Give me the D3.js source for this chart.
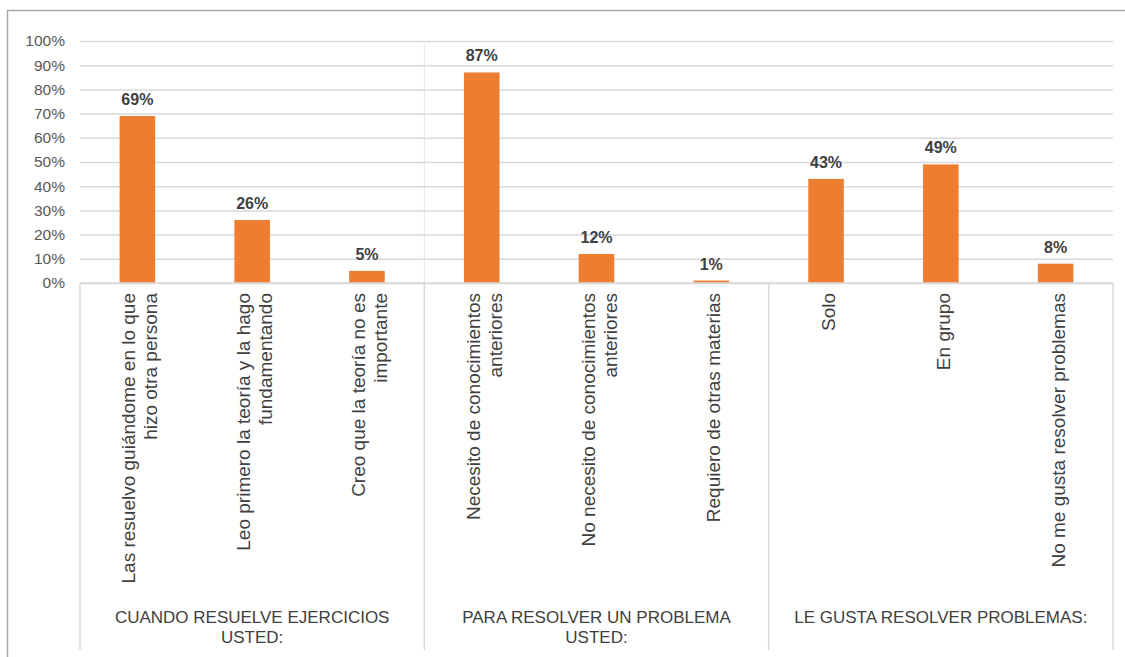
<!DOCTYPE html>
<html>
<head>
<meta charset="utf-8">
<script src="https://cdn.jsdelivr.net/npm/d3@7"></script>
<style>
  html, body { margin: 0; padding: 0; background: #fff; }
  svg { display: block; font-family: "Liberation Sans", Arial, sans-serif; }
</style>
</head>
<body>
<svg id="chart" width="1125" height="657"></svg>
<script>
// ---- data ----
const categoryLabels = [
  ["Las resuelvo guiándome en lo que", "hizo otra persona"],
  ["Leo primero la teoría y la hago", "fundamentando"],
  ["Creo que la teoría no es", "importante"],
  ["Necesito de conocimientos", "anteriores"],
  ["No necesito de conocimientos", "anteriores"],
  ["Requiero de otras materias"],
  ["Solo"],
  ["En grupo"],
  ["No me gusta resolver problemas"]
];
const values = [0.69, 0.26, 0.05, 0.87, 0.12, 0.01, 0.43, 0.49, 0.08];
const groupLabels = [
  ["CUANDO RESUELVE EJERCICIOS", "USTED:"],
  ["PARA RESOLVER UN PROBLEMA", "USTED:"],
  ["LE GUSTA RESOLVER PROBLEMAS:"]
];
const groupSizes = [3, 3, 3];
const yTicks = [0, 0.1, 0.2, 0.3, 0.4, 0.5, 0.6, 0.7, 0.8, 0.9, 1.0];

// ---- layout ----
const svg = d3.select("#chart");
const pL = 80, pR = 1113, pT = 41, pB = 283, catBottom = 650;
const barColor = "#ed7d31";
const gridColor = "#d9d9d9";
const textColor = "#595959";

// outer frame
svg.append("rect").attr("x", 7.5).attr("y", 10.5).attr("width", 1130).attr("height", 700)
  .attr("fill", "none").attr("stroke", "#a6a6a6").attr("stroke-width", 1.5);

const idx = values.map((d, i) => i);
const x = d3.scaleBand().domain(idx).range([pL, pR]).paddingInner(0.69).paddingOuter(0.345);
const xCell = d3.scaleBand().domain(idx).range([pL, pR]).padding(0);
const y = d3.scaleLinear().domain([0, 1]).range([pB, pT]);

// gridlines + y axis
const yAxis = d3.axisLeft(y).tickValues(yTicks).tickFormat(d3.format(".0%"))
  .tickSize(-(pR - pL)).tickPadding(15);
const gy = svg.append("g").attr("transform", `translate(${pL},0)`).call(yAxis);
gy.select(".domain").remove();
gy.selectAll(".tick line").attr("stroke", gridColor).attr("stroke-width", 1.5);
gy.selectAll(".tick text").attr("fill", textColor).attr("font-size", 15.5)
  .attr("font-family", "'Liberation Sans', Arial, sans-serif");

// faint separator inside plot after first group
svg.append("line").attr("x1", xCell(3)).attr("x2", xCell(3)).attr("y1", pT).attr("y2", pB)
  .attr("stroke", "#e6e6e6").attr("stroke-width", 1);

// bars
svg.append("g").selectAll("rect").data(values).join("rect")
  .attr("x", (d, i) => x(i)).attr("width", x.bandwidth())
  .attr("y", d => y(d)).attr("height", d => y(0) - y(d))
  .attr("fill", barColor);

// data labels
svg.append("g").selectAll("text").data(values).join("text")
  .attr("x", (d, i) => x(i) + x.bandwidth() / 2)
  .attr("y", d => y(d) - 11)
  .attr("text-anchor", "middle")
  .attr("font-size", 16).attr("font-weight", "bold").attr("fill", "#404040")
  .text(d => d3.format(".0%")(d));

// category axis box
svg.append("line").attr("x1", pL).attr("x2", pR).attr("y1", pB).attr("y2", pB)
  .attr("stroke", gridColor).attr("stroke-width", 1.5);
let boundaries = [0];
groupSizes.reduce((acc, s) => { boundaries.push(acc + s); return acc + s; }, 0);
svg.append("g").selectAll("line").data(boundaries).join("line")
  .attr("x1", b => b < values.length ? xCell(b) : pR)
  .attr("x2", b => b < values.length ? xCell(b) : pR)
  .attr("y1", pB).attr("y2", catBottom)
  .attr("stroke", gridColor).attr("stroke-width", 1.5);

// category labels (rotated)
const lineGap = 22;
const catG = svg.append("g");
categoryLabels.forEach((lines, i) => {
  const cx = xCell(i) + xCell.bandwidth() / 2;
  const n = lines.length;
  lines.forEach((t, j) => {
    const lx = cx + (j - (n - 1) / 2) * lineGap + 9;
    catG.append("text")
      .attr("transform", `translate(${lx},293) rotate(-90)`)
      .attr("text-anchor", "end")
      .attr("font-size", 19).attr("fill", "#404040")
      .text(t);
  });
});

// group labels
const grpG = svg.append("g");
groupLabels.forEach((lines, g) => {
  const x0 = xCell(boundaries[g]);
  const x1 = boundaries[g + 1] < values.length ? xCell(boundaries[g + 1]) : pR;
  const cx = (x0 + x1) / 2;
  lines.forEach((t, j) => {
    grpG.append("text")
      .attr("x", cx).attr("y", 623 + j * 19.5)
      .attr("text-anchor", "middle")
      .attr("font-size", 17).attr("fill", "#404040")
      .text(t);
  });
});
</script>
</body>
</html>
